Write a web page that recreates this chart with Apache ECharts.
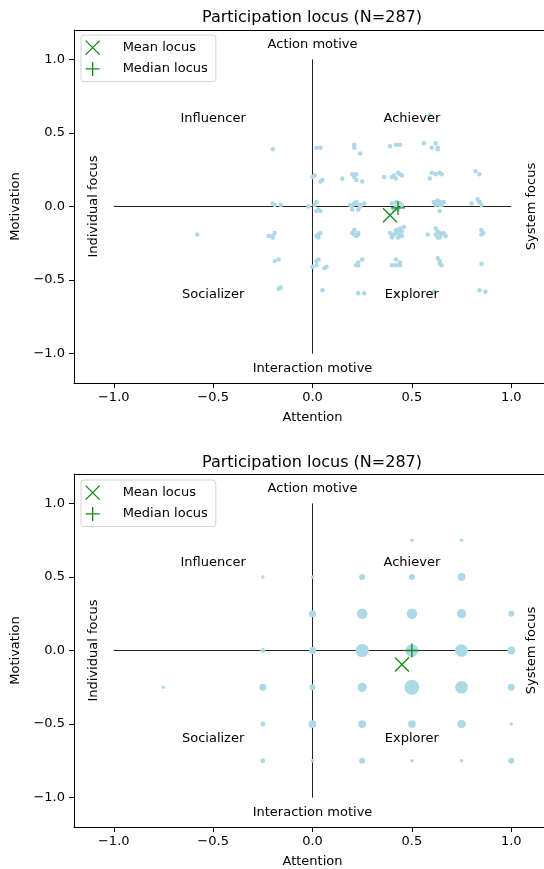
<!DOCTYPE html>
<html>
<head>
<meta charset="utf-8">
<script src="https://cdn.jsdelivr.net/npm/echarts@6/dist/echarts.min.js"></script>
<style>
  html, body { margin: 0; padding: 0; background: #fff; }
  #chart { width: 544px; height: 869px; }
</style>
</head>
<body>
<div id="chart"></div>
<script>
// tick labels on both axes
const ticks = [-1, -0.5, 0, 0.5, 1];

// top panel: jittered loci (attention, motivation)
const jitterPoints = [
  // upper rows
  [-0.20, 0.39], [0.02, 0.40], [0.04, 0.40], [0.21, 0.40], [0.21, 0.42], [0.24, 0.36],
  [0.39, 0.41], [0.42, 0.42], [0.44, 0.42], [0.56, 0.43], [0.60, 0.40], [0.62, 0.43],
  [0.63, 0.40], [0.63, 0.39], [0.59, 0.62],
  [0.01, 0.21], [0.00, 0.20], [0.05, 0.18], [0.04, 0.17], [0.15, 0.19], [0.20, 0.22],
  [0.21, 0.20], [0.22, 0.22], [0.22, 0.18], [0.25, 0.17], [0.21, 0.21], [0.36, 0.20],
  [0.41, 0.21], [0.43, 0.23], [0.44, 0.22], [0.42, 0.19], [0.40, 0.20], [0.45, 0.21],
  [0.60, 0.23], [0.59, 0.19], [0.62, 0.22], [0.64, 0.23], [0.65, 0.22], [0.82, 0.24], [0.84, 0.22],
  // middle row
  [-0.20, 0.02], [-0.19, 0.01], [-0.16, 0.01],
  [-0.02, 0.00], [0.01, 0.01], [0.02, 0.03], [0.03, -0.02], [0.02, -0.03], [0.04, -0.03],
  [0.19, 0.01], [0.21, 0.02], [0.22, 0.02], [0.24, 0.01], [0.26, 0.02], [0.20, -0.02],
  [0.23, -0.02], [0.22, 0.03], [0.20, 0.00], [0.24, 0.00],
  [0.40, 0.02], [0.42, 0.03], [0.44, 0.02], [0.41, -0.02], [0.43, -0.02], [0.42, 0.00], [0.45, 0.01],
  [0.61, 0.03], [0.63, 0.04], [0.64, 0.03], [0.65, 0.01], [0.62, 0.01], [0.64, 0.01],
  [0.64, -0.03], [0.62, 0.03], [0.66, 0.03],
  [0.80, 0.02], [0.83, 0.05], [0.84, 0.03], [0.85, 0.01],
  // lower rows
  [-0.58, -0.19],
  [-0.22, -0.20], [-0.20, -0.20], [-0.19, -0.18], [-0.20, -0.21],
  [0.02, -0.20], [0.04, -0.18], [0.03, -0.21], [0.03, -0.19],
  [0.21, -0.16], [0.23, -0.18], [0.22, -0.20], [0.23, -0.19], [0.21, -0.19], [0.20, -0.18],
  [0.39, -0.18], [0.42, -0.16], [0.44, -0.15], [0.46, -0.14], [0.40, -0.21], [0.43, -0.21],
  [0.45, -0.20], [0.41, -0.19], [0.44, -0.19], [0.42, -0.18], [0.40, -0.20], [0.45, -0.17], [0.43, -0.17],
  [0.58, -0.19],
  [0.62, -0.15], [0.64, -0.18], [0.65, -0.19], [0.63, -0.21], [0.64, -0.21], [0.67, -0.20],
  [0.62, -0.19], [0.66, -0.18], [0.63, -0.17],
  [0.85, -0.16], [0.85, -0.19], [0.86, -0.18],
  [-0.19, -0.37], [-0.17, -0.36],
  [0.02, -0.37], [0.03, -0.36], [0.02, -0.40], [0.00, -0.41], [0.06, -0.42], [0.07, -0.41],
  [0.22, -0.40], [0.23, -0.38], [0.25, -0.36], [0.23, -0.40],
  [0.40, -0.40], [0.42, -0.36], [0.44, -0.38], [0.44, -0.40], [0.42, -0.40],
  [0.63, -0.35], [0.64, -0.37], [0.65, -0.40], [0.64, -0.39],
  [0.85, -0.39],
  [-0.17, -0.56], [-0.16, -0.55], [0.05, -0.57], [0.23, -0.59], [0.26, -0.59],
  [0.42, -0.59], [0.61, -0.58], [0.84, -0.57], [0.87, -0.58]
];
const topMean = [[0.39, -0.06]];
const topMedian = [[0.43, -0.01]];

// bottom panel: rounded loci [attention, motivation, count]
const gridCounts = [
  [0.5, 0.75, 1], [0.75, 0.75, 1],
  [-0.25, 0.5, 1], [0, 0.5, 1], [0.25, 0.5, 3], [0.5, 0.5, 3], [0.75, 0.5, 5],
  [0, 0.25, 4], [0.25, 0.25, 9], [0.5, 0.25, 9], [0.75, 0.25, 7], [1, 0.25, 3],
  [-0.25, 0, 2], [0, 0, 4], [0.25, 0, 14], [0.5, 0, 13], [0.75, 0, 13], [1, 0, 5],
  [-0.75, -0.25, 1], [-0.25, -0.25, 4], [0, -0.25, 3], [0.25, -0.25, 7], [0.5, -0.25, 18], [0.75, -0.25, 13], [1, -0.25, 4],
  [-0.25, -0.5, 2], [0, -0.5, 5], [0.25, -0.5, 5], [0.5, -0.5, 5], [0.75, -0.5, 6], [1, -0.5, 1],
  [-0.25, -0.75, 2], [0, -0.75, 1], [0.25, -0.75, 3], [0.5, -0.75, 1], [0.75, -0.75, 1], [1, -0.75, 3]
];
const bottomMean = [[0.45, -0.095]];
const bottomMedian = [[0.5, 0]];

// quadrant cross
const crossH = [[-1, 0], [1, 0]];
const crossV = [[0, -1], [0, 1]];

// quadrant / side annotations
const notes = [
  { name: 'Action motive', value: [0, 1.1], rot: 0 },
  { name: 'Interaction motive', value: [0, -1.1], rot: 0 },
  { name: 'Influencer', value: [-0.5, 0.6], rot: 0 },
  { name: 'Achiever', value: [0.5, 0.6], rot: 0 },
  { name: 'Socializer', value: [-0.5, -0.6], rot: 0 },
  { name: 'Explorer', value: [0.5, -0.6], rot: 0 },
  { name: 'Individual focus', value: [-1.1, 0], rot: 90 },
  { name: 'System focus', value: [1.1, 0], rot: 90 }
];

const FONT = 'DejaVu Sans';
const TXT = '#000';
const DOT = '#add8e6';
const GREEN = '#138a13';
const X_PATH = 'path://M0,0L10,10M10,0L0,10';
const PLUS_PATH = 'path://M5,0L5,10M0,5L10,5';

function fmt(v) {
  return (v < 0 ? '\u2212' : '') + Math.abs(v).toFixed(1);
}

function xAxisFor(i) {
  return {
    type: 'value', gridIndex: i, min: -1.2, max: 1.2, position: 'bottom',
    name: 'Attention', nameLocation: 'middle', nameGap: 28,
    nameTextStyle: { fontFamily: FONT, fontSize: 13, color: TXT },
    axisLine: { show: true, onZero: false, lineStyle: { color: '#000', width: 1 } },
    axisTick: { show: true, length: 5, customValues: ticks, lineStyle: { color: '#000' } },
    axisLabel: { customValues: ticks, formatter: fmt, margin: 8, fontFamily: FONT, fontSize: 13, color: TXT },
    splitLine: { show: false }
  };
}
// top spine only
function topSpineFor(i) {
  return {
    type: 'value', gridIndex: i, min: -1.2, max: 1.2, position: 'top',
    axisLine: { show: true, onZero: false, lineStyle: { color: '#000', width: 1 } },
    axisTick: { show: false }, axisLabel: { show: false }, splitLine: { show: false }
  };
}
function yAxisFor(i) {
  return {
    type: 'value', gridIndex: i, min: -1.2, max: 1.2, position: 'left',
    name: 'Motivation', nameLocation: 'middle', nameGap: 44,
    nameTextStyle: { fontFamily: FONT, fontSize: 13, color: TXT },
    axisLine: { show: true, onZero: false, lineStyle: { color: '#000', width: 1 } },
    axisTick: { show: true, length: 5, customValues: ticks, lineStyle: { color: '#000' } },
    axisLabel: { customValues: ticks, formatter: fmt, margin: 9, fontFamily: FONT, fontSize: 13, color: TXT },
    splitLine: { show: false }
  };
}
function legendFor(top) {
  return {
    orient: 'vertical', left: 81, top: top,
    padding: [5, 8, 5, 4], itemGap: 6, itemWidth: 28, itemHeight: 14,
    backgroundColor: 'rgba(255,255,255,0.8)', borderColor: '#d3d3d3', borderWidth: 1, borderRadius: 3,
    textStyle: { fontFamily: FONT, fontSize: 13, color: TXT, lineHeight: 14, padding: [0, 0, 0, 11] },
    selectedMode: false,
    data: [
      { name: 'Mean locus', icon: X_PATH, itemStyle: { color: 'transparent', borderColor: GREEN, borderWidth: 1.3 } },
      { name: 'Median locus', icon: PLUS_PATH, itemStyle: { color: 'transparent', borderColor: GREEN, borderWidth: 1.3 } }
    ]
  };
}
function crossSeries(i, data) {
  return {
    type: 'line', xAxisIndex: i * 2, yAxisIndex: i, data: data, symbol: 'none', silent: true, z: 1,
    lineStyle: { color: '#222', width: 1 }
  };
}
function noteSeries(i) {
  return {
    type: 'scatter', xAxisIndex: i * 2, yAxisIndex: i, symbolSize: 0, silent: true, z: 3,
    itemStyle: { opacity: 1 },
    data: notes.map(n => ({
      name: n.name, value: n.value,
      label: { show: true, position: 'inside', rotate: n.rot, formatter: '{b}',
        fontFamily: FONT, fontSize: 13, color: TXT, textBorderWidth: 0 }
    }))
  };
}
function markerSeries(i, name, path, data) {
  return {
    type: 'scatter', name: name, xAxisIndex: i * 2, yAxisIndex: i, data: data, z: 5,
    symbol: path, symbolSize: 14,
    itemStyle: { color: 'transparent', borderColor: GREEN, borderWidth: 1.3, opacity: 1 }
  };
}

const chart = echarts.init(document.getElementById('chart'), null, { renderer: 'canvas' });
chart.setOption({
  animation: false,
  title: [
    { text: 'Participation locus (N=287)', left: 307, top: 5, textAlign: 'center',
      textStyle: { fontFamily: FONT, fontSize: 16, fontWeight: 'normal', color: TXT } },
    { text: 'Participation locus (N=287)', left: 307, top: 450, textAlign: 'center',
      textStyle: { fontFamily: FONT, fontSize: 16, fontWeight: 'normal', color: TXT } }
  ],
  legend: [legendFor(35), legendFor(480)],
  grid: [
    { left: 74, top: 30, width: 477, height: 353, outerBoundsMode: 'none', containLabel: false },
    { left: 74, top: 474, width: 477, height: 353, outerBoundsMode: 'none', containLabel: false }
  ],
  xAxis: [xAxisFor(0), topSpineFor(0), xAxisFor(1), topSpineFor(1)],
  yAxis: [yAxisFor(0), yAxisFor(1)],
  series: [
    crossSeries(0, crossH), crossSeries(0, crossV),
    {
      type: 'scatter', xAxisIndex: 0, yAxisIndex: 0, data: jitterPoints, symbolSize: 4.5, z: 2,
      itemStyle: { color: DOT, opacity: 1 }
    },
    noteSeries(0),
    markerSeries(0, 'Mean locus', X_PATH, topMean),
    markerSeries(0, 'Median locus', PLUS_PATH, topMedian),

    crossSeries(1, crossH), crossSeries(1, crossV),
    {
      type: 'scatter', xAxisIndex: 2, yAxisIndex: 1, data: gridCounts, z: 2,
      symbolSize: d => 3.5 * Math.sqrt(d[2]),
      itemStyle: { color: DOT, opacity: 1 }
    },
    noteSeries(1),
    markerSeries(1, 'Mean locus', X_PATH, bottomMean),
    markerSeries(1, 'Median locus', PLUS_PATH, bottomMedian)
  ]
});
</script>
</body>
</html>
